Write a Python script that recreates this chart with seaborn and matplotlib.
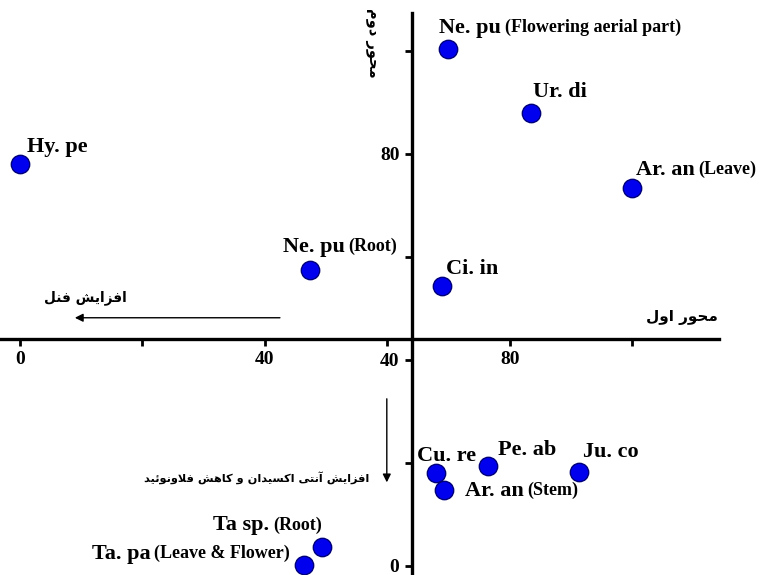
import pandas as pd
import seaborn as sns
import matplotlib
matplotlib.use('Agg')
import matplotlib.pyplot as plt

# data
names = ['Hy. pe', 'Ne. pu', 'Ne. pu', 'Ur. di', 'Ar. an', 'Ci. in',
         'Cu. re', 'Pe. ab', 'Ju. co', 'Ar. an', 'Ta sp.', 'Ta. pa']
parts = ['', '(Root)', '(Flowering aerial part)', '', '(Leave)', '',
         '', '', '', '(Stem)', '(Root)', '(Leave & Flower)']
axis1 = [0.0, 47.3, 69.9, 83.4, 99.9, 68.9, 67.9, 76.4, 91.3, 69.2, 49.3, 46.4]
axis2 = [78.0, 57.5, 100.4, 88.0, 73.4, 54.4, 18.1, 19.4, 18.3, 14.8, 3.7, 0.2]
ticks = [0, 20, 40, 60, 80, 100]
tick_labels = ['0', '', '40', '', '80', '']

# label offsets in pixels (dx, dy, align)
offsets = [(7, 12, 'left'), (-27, 18, 'left'), (-9, 16, 'left'), (2, 16, 'left'),
           (4, 13, 'left'), (4, 12, 'left'), (-19, 12, 'left'), (10, 11, 'left'),
           (4, 15, 'left'), (21, -6, 'left'), (0, 17, 'right'), (-14, 7, 'right')]

# simple persian shaping (presentation forms, visual order)
AR = {
    'ا': ('\ufe8d', '\ufe8e', None, None),
    'آ': ('\ufe81', '\ufe82', None, None),
    'د': ('\ufea9', '\ufeaa', None, None),
    'ر': ('\ufead', '\ufeae', None, None),
    'ز': ('\ufeaf', '\ufeb0', None, None),
    'و': ('\ufeed', '\ufeee', None, None),
    'ت': ('\ufe95', '\ufe96', '\ufe97', '\ufe98'),
    'ح': ('\ufea1', '\ufea2', '\ufea3', '\ufea4'),
    'س': ('\ufeb1', '\ufeb2', '\ufeb3', '\ufeb4'),
    'ش': ('\ufeb5', '\ufeb6', '\ufeb7', '\ufeb8'),
    'ف': ('\ufed1', '\ufed2', '\ufed3', '\ufed4'),
    'ک': ('\ufed9', '\ufeda', '\ufedb', '\ufedc'),
    'ل': ('\ufedd', '\ufede', '\ufedf', '\ufee0'),
    'م': ('\ufee1', '\ufee2', '\ufee3', '\ufee4'),
    'ن': ('\ufee5', '\ufee6', '\ufee7', '\ufee8'),
    'ه': ('\ufee9', '\ufeea', '\ufeeb', '\ufeec'),
    'ی': ('\ufeef', '\ufef0', '\ufef3', '\ufef4'),
    'ئ': ('\ufe89', '\ufe8a', '\ufe8b', '\ufe8c'),
}


def fa(s):
    out = []
    i = 0
    while i < len(s):
        c = s[i]
        if c not in AR:
            out.append(c)
            i += 1
            continue
        prev = s[i - 1] if i > 0 else ''
        join_prev = prev in AR and AR[prev][2] is not None
        if c == 'ل' and i + 1 < len(s) and s[i + 1] == 'ا':
            out.append('\ufefc' if join_prev else '\ufefb')
            i += 2
            continue
        nxt = s[i + 1] if i + 1 < len(s) else ''
        join_next = AR[c][2] is not None and nxt in AR
        if join_prev and join_next:
            out.append(AR[c][3])
        elif join_prev:
            out.append(AR[c][1])
        elif join_next:
            out.append(AR[c][2])
        else:
            out.append(AR[c][0])
        i += 1
    return ''.join(reversed(out))


df = pd.DataFrame({'x': axis1, 'y': axis2, 'name': names, 'part': parts})

sns.set_style('white')
plt.rcParams['font.family'] = ['Liberation Serif', 'DejaVu Sans']
plt.rcParams['font.weight'] = 'bold'
plt.rcParams['text.color'] = 'black'
plt.rcParams['xtick.color'] = 'black'
plt.rcParams['ytick.color'] = 'black'

fig = plt.figure(figsize=(7.64, 5.75), dpi=100)
ax = fig.add_axes([0, 0, 1, 1])

sns.scatterplot(data=df, x='x', y='y', ax=ax, s=175, color='#0000ee',
                edgecolor='#00007a', linewidth=1, legend=False, zorder=3, clip_on=False)

ax.set_xlim(-3.27, 121.5)
ax.set_ylim(-1.75, 109.9)

# crossing axes
for side in ['top', 'right']:
    ax.spines[side].set_visible(False)
ax.spines['left'].set_position(('data', 64.0))
ax.spines['bottom'].set_position(('data', 44.1))
ax.spines['left'].set_bounds(-1.75, 107.4)
ax.spines['bottom'].set_bounds(-3.27, 114.1)
for side in ['left', 'bottom']:
    ax.spines[side].set_linewidth(2.4)
    ax.spines[side].set_color('black')

ax.set_xticks(ticks)
ax.set_xticklabels(tick_labels)
ax.set_yticks(ticks)
ax.set_yticklabels(tick_labels)
ax.tick_params(axis='both', bottom=True, left=True, direction='out', length=5, width=2,
               labelsize=14, pad=4, colors='black')
for lab in ax.get_xticklabels() + ax.get_yticklabels():
    lab.set_fontweight('bold')
ax.set_xlabel('')
ax.set_ylabel('')

# point labels: name in larger bold, plant part in smaller bold
for i in range(len(names)):
    dx, dy, al = offsets[i]
    if al == 'left':
        t = ax.annotate(names[i], (axis1[i], axis2[i]), xytext=(dx, dy), textcoords='offset pixels',
                        ha='left', va='baseline', fontsize=16, fontweight='bold')
        if parts[i]:
            ax.annotate(parts[i], xy=(1, 0), xycoords=t, xytext=(4, 1.5), textcoords='offset pixels',
                        ha='left', va='bottom', fontsize=13, fontweight='bold')
    else:
        p = ax.annotate(parts[i], (axis1[i], axis2[i]), xytext=(dx, dy), textcoords='offset pixels',
                        ha='right', va='baseline', fontsize=13, fontweight='bold')
        ax.annotate(names[i], xy=(0, 0), xycoords=p, xytext=(-4, -1.5), textcoords='offset pixels',
                    ha='right', va='bottom', fontsize=16, fontweight='bold')

# arrows and persian notes
ax.annotate('', xy=(8.5, 48.2), xytext=(42.9, 48.2),
            arrowprops=dict(arrowstyle='-|>', color='black', lw=1, mutation_scale=12))
ax.annotate('', xy=(59.9, 15.7), xytext=(59.9, 33.0),
            arrowprops=dict(arrowstyle='-|>', color='black', lw=1, mutation_scale=12))

pfont = dict(family='DejaVu Sans', fontweight='bold', color='black')
ax.text(10.6, 52.2, fa('افزایش فنل'), ha='center', va='center', fontsize=9.8, **pfont)
ax.text(114.0, 48.3, fa('محور اول'), ha='right', va='center', fontsize=11, **pfont)
ax.text(57.1, 17.1, fa('افزایش آنتی اکسیدان و کاهش فلاونوئید'), ha='right', va='center',
        fontsize=8.2, **pfont)
ax.text(57.5, 101.5, fa('محور دوم'), ha='center', va='center', rotation=-90, fontsize=10.5, **pfont)

plt.savefig('out.png', dpi=100)
